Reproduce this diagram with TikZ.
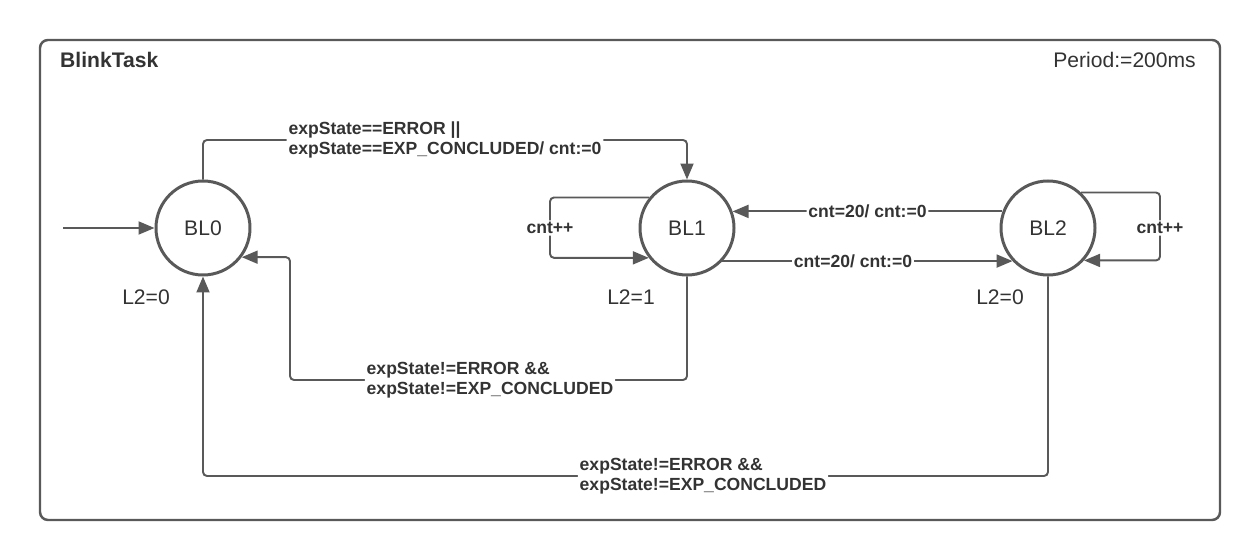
\documentclass[tikz,border=0pt]{standalone}
\usepackage{fontspec}
\setmainfont{Liberation Sans}
\usetikzlibrary{arrows.meta}
\definecolor{lineGray}{RGB}{89,89,89}
\definecolor{textGray}{RGB}{51,51,51}

\begin{document}
\begin{tikzpicture}[
  state/.style={circle,draw=lineGray,line width=1.7pt,minimum size=1.88cm,inner sep=0pt,text=textGray,font=\fontsize{12}{14}\selectfont},
  edge/.style={draw=lineGray,line width=1.1pt,rounded corners=0.08cm,-{Triangle[length=3.2mm,width=2.6mm]}},
  lbl/.style={fill=white,inner sep=1pt,text=textGray,align=left,font=\bfseries\fontsize{10}{11.5}\selectfont},
  outlbl/.style={text=textGray,font=\fontsize{12}{14}\selectfont}
]
\useasboundingbox (0,0) rectangle (25.2,11.2);

% Task frame
\draw[lineGray,line width=1.4pt,rounded corners=0.16cm] (0.8,0.8) rectangle (24.4,10.4);
\node[anchor=west,text=textGray,font=\bfseries\fontsize{12}{14}\selectfont] (title) at (1.08,10.0) {BlinkTask};
\node[anchor=east,outlbl] (period) at (24.04,10.0) {Period:=200ms};

% States and outputs
\foreach \s/\x in {BL0/4.06, BL1/13.74, BL2/20.96} {
    \node[state] (\s) at (\x,6.64) {\s};
}
\node[outlbl] (out0) at (2.92,5.26) {L2=0};
\node[outlbl] (out1) at (12.62,5.26) {L2=1};
\node[outlbl] (out2) at (20.0,5.26) {L2=0};

% Transitions
\coordinate (init) at (1.26,6.64);
\draw[edge] (init) -- (BL0);

\draw[edge] (BL0.north) |- (8.9,8.4) node[lbl] {expState==ERROR ||\\expState==EXP\_CONCLUDED/ cnt:=0} -| (BL1.north);

\draw[edge] (BL1.141) -| (11.0,6.64) node[lbl] {cnt++} |- (BL1.218);
\draw[edge] (BL2.47) -| (23.2,6.64) node[lbl] {cnt++} |- (BL2.-42);

\draw[edge] (BL2.160) -- (BL1.20) node[lbl,midway] {cnt=20/ cnt:=0};
\draw[edge] (BL1.-43) -- (BL2.223) node[lbl,pos=0.45] {cnt=20/ cnt:=0};

\draw[edge] (BL1.south) |- (9.8,3.6) node[lbl] {expState!=ERROR \&\&\\expState!=EXP\_CONCLUDED} -- (5.8,3.6) |- (BL0.-37);
\draw[edge] (BL2.south) |- (14.06,1.68) node[lbl] {expState!=ERROR \&\&\\expState!=EXP\_CONCLUDED} -| (BL0.south);
\end{tikzpicture}
\end{document}
